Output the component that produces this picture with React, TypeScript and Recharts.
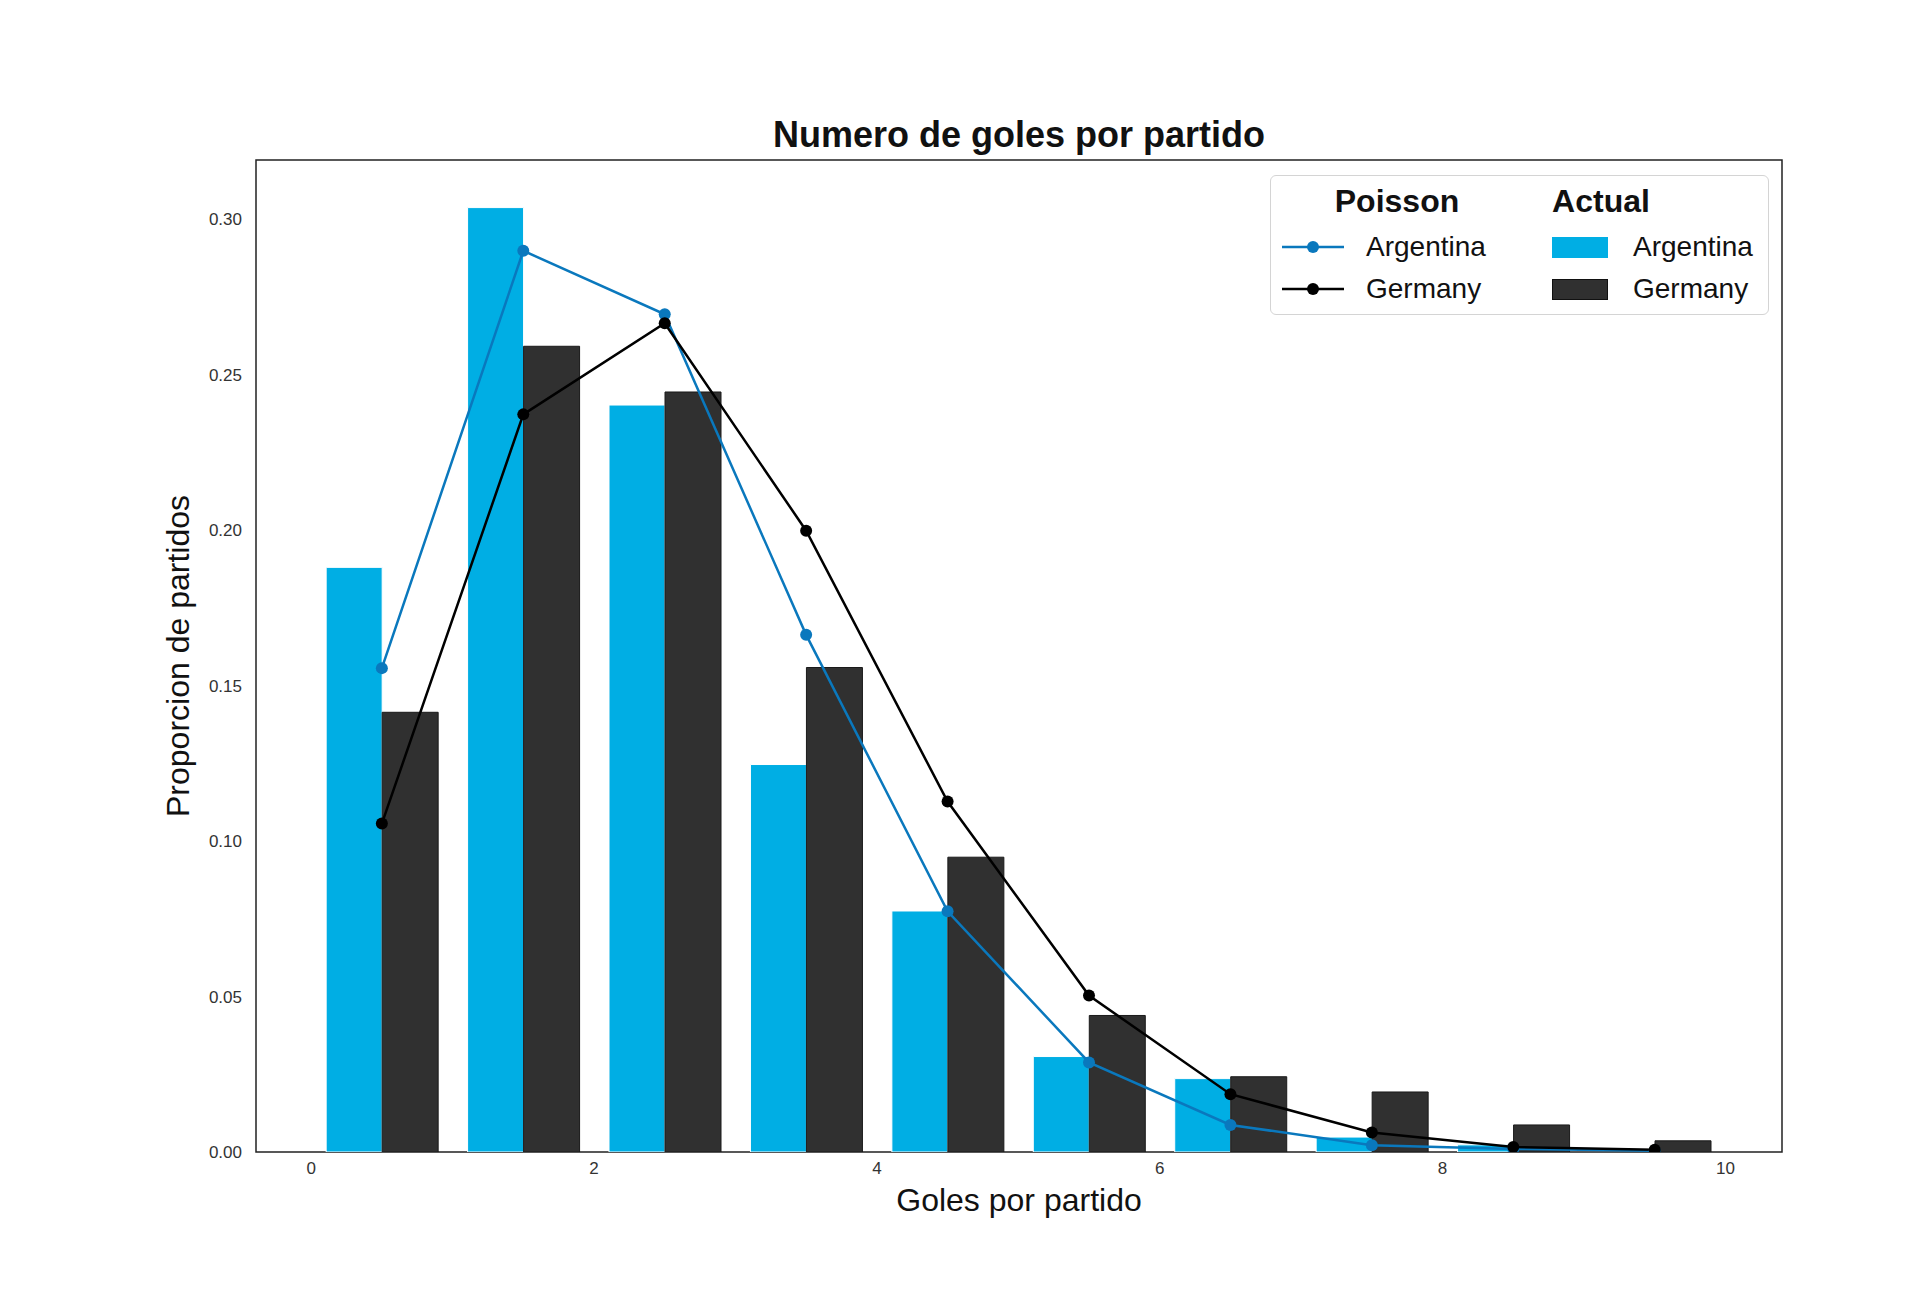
import React from 'react';
import { Bar, ComposedChart, Legend, Line, ReferenceArea, XAxis, YAxis } from 'recharts';

// goals per match, bin centres (bins 0-1, 1-2, ...)
const binCenters = [0.5, 1.5, 2.5, 3.5, 4.5, 5.5, 6.5, 7.5, 8.5, 9.5];

// observed share of matches
const actualArgentina = [0.188, 0.3037, 0.2402, 0.1246, 0.0775, 0.0307, 0.0236, 0.0048, 0.0023, 0];
const actualGermany = [0.1414, 0.2591, 0.2444, 0.1558, 0.0948, 0.0439, 0.0242, 0.0193, 0.0087, 0.0036];

// poisson fit
const poissonArgentina = [0.1556, 0.2898, 0.2694, 0.1663, 0.0774, 0.0288, 0.0087, 0.0022, 0.001, 0.0004];
const poissonGermany = [0.1056, 0.2372, 0.2665, 0.1998, 0.1127, 0.0503, 0.0186, 0.0063, 0.0016, 0.0007];

const xTicks = [0, 2, 4, 6, 8, 10];
const yTicks = [0, 0.05, 0.1, 0.15, 0.2, 0.25, 0.3];

const data = binCenters.map((x, i) => ({
  x,
  actArg: actualArgentina[i],
  actGer: actualGermany[i],
  poiArg: poissonArgentina[i],
  poiGer: poissonGermany[i],
}));

const FONT = '"Liberation Sans", Arial, Helvetica, sans-serif';
const BLUE_BAR = '#00aee4';
const DARK_BAR = '#303030';
const BLUE_LINE = '#0a78bd';
const BLACK_LINE = '#000000';

const X_MIN = -0.39;
const X_MAX = 10.4;
const Y_MAX = 0.319;

function LegendBox() {
  const head: React.CSSProperties = { position: 'absolute', top: 4, fontSize: 32, fontWeight: 'bold', lineHeight: '42px', transform: 'translateX(-50%)' };
  const label: React.CSSProperties = { position: 'absolute', fontSize: 28, lineHeight: '36px', color: '#111' };
  const lineSym = (top: number, color: string) => (
    <svg style={{ position: 'absolute', left: 10, top: top - 10 }} width={66} height={20}>
      <line x1={1} y1={10} x2={63} y2={10} stroke={color} strokeWidth={2.5} />
      <circle cx={32} cy={10} r={6} fill={color} />
    </svg>
  );
  return (
    <div
      style={{
        position: 'relative',
        width: 499,
        height: 140,
        boxSizing: 'border-box',
        border: '1.5px solid #d4d4d4',
        borderRadius: 6,
        background: 'rgba(255,255,255,0.85)',
        fontFamily: FONT,
        color: '#111',
      }}
    >
      <div style={{ ...head, left: 126 }}>Poisson</div>
      <div style={{ ...head, left: 330 }}>Actual</div>
      {lineSym(71, BLUE_LINE)}
      {lineSym(113, BLACK_LINE)}
      <div style={{ ...label, left: 95, top: 71 - 18 }}>Argentina</div>
      <div style={{ ...label, left: 95, top: 113 - 18 }}>Germany</div>
      <div style={{ position: 'absolute', left: 281, top: 71 - 10, width: 56, height: 21, background: BLUE_BAR }} />
      <div style={{ position: 'absolute', left: 281, top: 113 - 10, width: 56, height: 21, background: DARK_BAR, boxSizing: 'border-box', border: '1px solid #111' }} />
      <div style={{ ...label, left: 362, top: 71 - 18 }}>Argentina</div>
      <div style={{ ...label, left: 362, top: 113 - 18 }}>Germany</div>
    </div>
  );
}

export default function App() {
  return (
    <div style={{ position: 'relative', width: 1904, height: 1300, background: '#fff', fontFamily: FONT }}>
      <div
        style={{
          position: 'absolute',
          left: 248,
          width: 1526,
          top: 105,
          textAlign: 'center',
          fontSize: 36,
          fontWeight: 'bold',
          lineHeight: '44px',
          color: '#111',
        }}
      >
        Numero de goles por partido
      </div>
      <ComposedChart
        width={1904}
        height={1300}
        data={data}
        margin={{ top: 152, right: 130, bottom: 96, left: 168 }}
        barGap={0}
      >
        <XAxis
          dataKey="x"
          type="number"
          domain={[X_MIN, X_MAX]}
          ticks={xTicks}
          allowDataOverflow
          height={60}
          axisLine={false}
          tickLine={false}
          tickSize={0}
          tickMargin={10}
          tick={{ fontSize: 17, fill: '#333', fontFamily: FONT }}
          label={{ value: 'Goles por partido', position: 'insideTop', offset: 36, fontSize: 32, fill: '#111', fontFamily: FONT }}
        />
        <YAxis
          type="number"
          domain={[0, Y_MAX]}
          ticks={yTicks}
          allowDataOverflow
          width={80}
          axisLine={false}
          tickLine={false}
          tickSize={0}
          tickMargin={14}
          tickFormatter={(v: number) => v.toFixed(2)}
          tick={{ fontSize: 17, fill: '#333', fontFamily: FONT }}
          label={{
            value: 'Proporcion de partidos',
            angle: -90,
            position: 'insideLeft',
            offset: 2,
            fontSize: 32,
            fill: '#111',
            fontFamily: FONT,
            textAnchor: 'middle',
          }}
        />
        <Bar dataKey="actArg" name="Argentina" barSize={56} fill={BLUE_BAR} stroke="#ffffff" strokeWidth={1} isAnimationActive={false} />
        <Bar dataKey="actGer" name="Germany" barSize={56} fill={DARK_BAR} stroke="#1a1a1a" strokeWidth={1} isAnimationActive={false} />
        <Line
          dataKey="poiArg"
          name="Argentina"
          stroke={BLUE_LINE}
          strokeWidth={2.5}
          dot={{ r: 6, fill: BLUE_LINE, stroke: BLUE_LINE, strokeWidth: 0 }}
          activeDot={false}
          isAnimationActive={false}
        />
        <Line
          dataKey="poiGer"
          name="Germany"
          stroke={BLACK_LINE}
          strokeWidth={2.5}
          dot={{ r: 6, fill: BLACK_LINE, stroke: BLACK_LINE, strokeWidth: 0 }}
          activeDot={false}
          isAnimationActive={false}
        />
        <ReferenceArea x1={X_MIN} x2={X_MAX} y1={0} y2={Y_MAX} fill="none" stroke="#222" strokeWidth={1.5} ifOverflow="visible" />
        <Legend
          layout="horizontal"
          verticalAlign="middle"
          align="center"
          wrapperStyle={{ position: 'absolute', left: 1262, top: 167, width: 499, height: 140 }}
          content={() => <LegendBox />}
        />
      </ComposedChart>
    </div>
  );
}
